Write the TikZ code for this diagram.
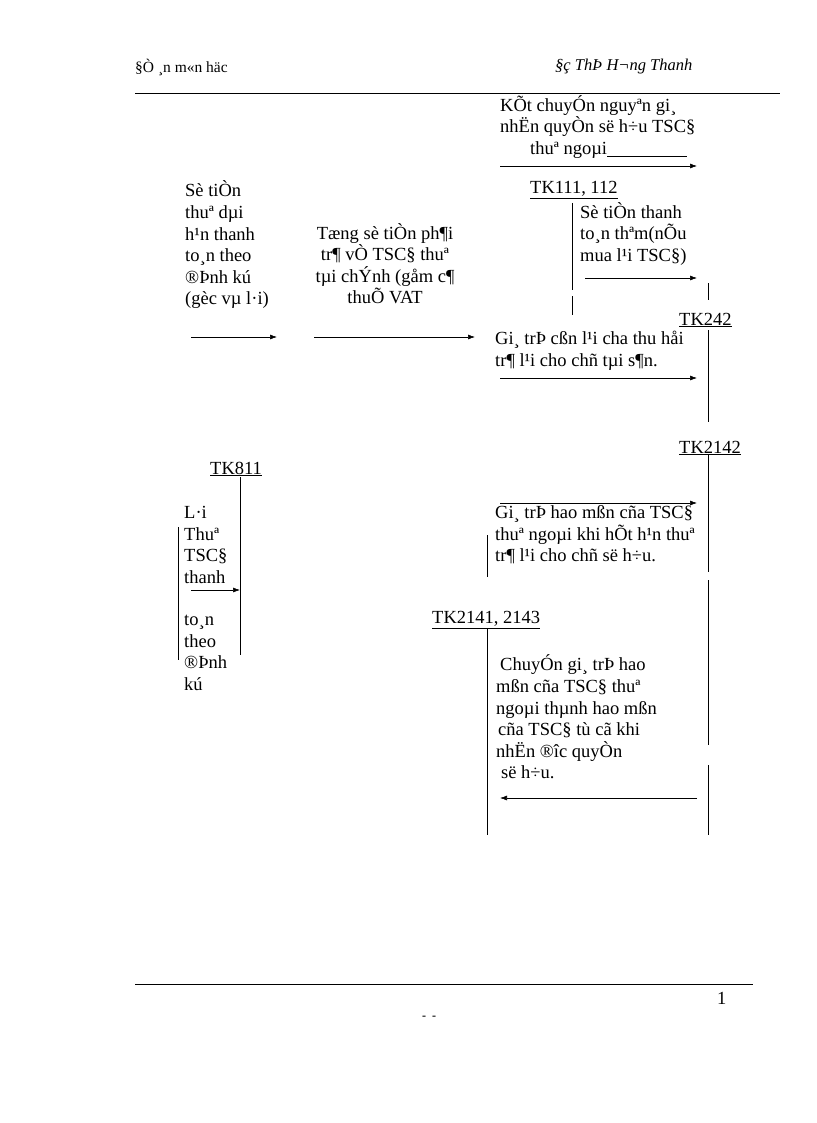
\documentclass[tikz,border=0pt]{standalone}
\usepackage{fontspec}
\setmainfont{Liberation Serif}
\usetikzlibrary{arrows.meta}
\begin{document}
\begin{tikzpicture}[x=1pt,y=-1pt,
  txt/.style={anchor=west,inner sep=0pt,font=\fontsize{18.5}{21.6}\selectfont,align=left},
  tk/.style={txt},
  arr/.style={-{Latex[length=7pt,width=5pt]},line width=0.6pt},
  ln/.style={line width=0.6pt}]
\useasboundingbox (0,0) rectangle (816,1123);
% header
\node[txt,font=\fontsize{15.5}{16}\selectfont] (h1) at (135,67) {§Ò ¸n m«n  häc};
\node[txt,font=\fontsize{16.5}{18}\selectfont\itshape] (h2) at (555,67) {§ç ThÞ H¬ng  Thanh};
\draw[ln] (135,93) -- (780,93);
% top
\node[txt] (t1) at (500,127) {KÕt chuyÓn nguyªn gi¸\\nhËn quyÒn së h÷u TSC§\\\hspace*{30pt}thuª ngoµi\rule[-2pt]{80pt}{0.6pt}};
\coordinate (a1s) at (500,166); \coordinate (a1e) at (697,166);
\draw[arr] (a1s) -- (a1e);
% TK111
\node[tk] (tk111) at (530,190) {\underline{TK111, 112}};
\draw[ln] (572,203) -- (572,290) (572,296) -- (572,315);
\node[txt] (t2) at (580,234) {Sè tiÒn thanh\\to¸n thªm(nÕu\\mua l¹i TSC§)};
\coordinate (a2s) at (585,278); \coordinate (a2e) at (697,278);
\draw[arr] (a2s) -- (a2e);
% left texts
\node[txt] (t3) at (185,245) {Sè tiÒn\\thuª dµi\\h¹n thanh\\to¸n theo\\®Þnh kú\\(gèc vµ l·i)};
\node[txt,anchor=north,align=center] (t4) at (385,223) {Tæng sè tiÒn ph¶i\\tr¶ vÒ TSC§ thuª\\tµi chÝnh (gåm c¶\\thuÕ VAT};
\coordinate (a3s) at (191,337); \coordinate (a3e) at (277,337);
\coordinate (a4s) at (314,337); \coordinate (a4e) at (475,337);
\draw[arr] (a3s) -- (a3e);
\draw[arr] (a4s) -- (a4e);
% TK242
\node[tk] (tk242) at (679,320) {\underline{TK242}};
\draw[ln] (708,283) -- (708,300) (708,330) -- (708,422);
\node[txt] (t5) at (495,351) {Gi¸ trÞ cßn l¹i cha  thu håi\\tr¶ l¹i cho chñ tµi s¶n.};
\coordinate (a5s) at (500,378); \coordinate (a5e) at (697,378);
\draw[arr] (a5s) -- (a5e);
% TK2142
\node[tk] (tk2142) at (679,448) {\underline{TK2142}};
\draw[ln] (708,455) -- (708,572) (708,580) -- (708,745) (708,765) -- (708,835);
\coordinate (a6s) at (500,503); \coordinate (a6e) at (697,503);
\draw[arr] (a6s) -- (a6e);
\node[txt] (t6) at (495,535) {Gi¸ trÞ hao mßn cña TSC§\\thuª ngoµi khi hÕt h¹n thuª\\tr¶ l¹i cho chñ së h÷u.};
\draw[ln] (487,535) -- (487,577);
% TK811
\node[tk] (tk811) at (210,469) {\underline{TK811}};
\draw[ln] (240,477) -- (240,655);
\draw[ln] (178,527) -- (178,660);
\node[txt] (t7) at (184,545) {L·i\\Thuª\\TSC§\\thanh};
\node[txt] (t8) at (184,653) {to¸n\\theo\\®Þnh\\kú};
\coordinate (a7s) at (191,590); \coordinate (a7e) at (240,590);
\draw[arr] (a7s) -- (a7e);
% TK2141
\node[tk] (tk2141) at (432,620) {\underline{TK2141, 2143}};
\draw[ln] (487,628) -- (487,835);
\node[txt] (t9) at (496,717) {\hspace*{4pt}ChuyÓn gi¸ trÞ hao\\mßn cña TSC§ thuª\\ngoµi thµnh hao mßn\\\hspace*{2pt}cña TSC§ tù cã khi\\nhËn ®îc  quyÒn\\\hspace*{5pt}së h÷u.};
\coordinate (a8s) at (697,798); \coordinate (a8e) at (500,798);
\draw[arr] (a8s) -- (a8e);
% footer
\draw[ln] (135,984) -- (753,984);
\node[txt] (pg) at (717,998) {1};
\node[txt,font=\fontsize{12}{14}\selectfont\bfseries] (dd) at (422,1018) {-\hspace{6pt}-};
\end{tikzpicture}
\end{document}
